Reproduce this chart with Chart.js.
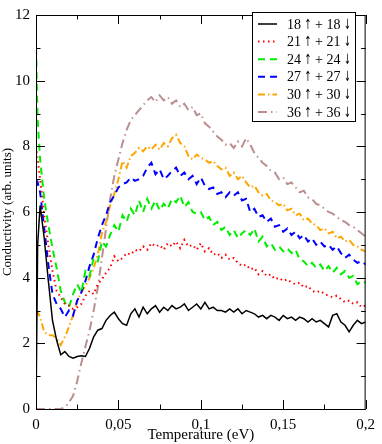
<!DOCTYPE html>
<html>
<head>
<meta charset="utf-8">
<script src="https://cdn.jsdelivr.net/npm/chart.js@4/dist/chart.umd.min.js"></script>
<style>
  html, body { margin: 0; padding: 0; background: #fff; }
  #wrap { width: 382px; height: 444px; }
</style>
</head>
<body>
<div id="wrap"><canvas id="myChart" width="382" height="444"></canvas></div>
<script>
const temperature = [0, 0.001,
  0.0025, 0.005, 0.0075, 0.01, 0.0125, 0.015, 0.0175, 0.02, 0.0225, 0.025,
  0.0275, 0.03, 0.0325, 0.035, 0.0375, 0.04, 0.0425, 0.045, 0.0475, 0.05,
  0.0525, 0.055, 0.0575, 0.06, 0.0625, 0.065, 0.0675, 0.07, 0.0725, 0.075,
  0.0775, 0.08, 0.0825, 0.085, 0.0875, 0.09, 0.0925, 0.095, 0.0975, 0.1,
  0.1025, 0.105, 0.1075, 0.11, 0.1125, 0.115, 0.1175, 0.12, 0.1225, 0.125,
  0.1275, 0.13, 0.1325, 0.135, 0.1375, 0.14, 0.1425, 0.145, 0.1475, 0.15,
  0.1525, 0.155, 0.1575, 0.16, 0.1625, 0.165, 0.1675, 0.17, 0.1725, 0.175,
  0.1775, 0.18, 0.1825, 0.185, 0.1875, 0.19, 0.1925, 0.195, 0.1975, 0.2];

const s18 = [0, 5.0,
  6.2, 5.2, 3.9, 2.7, 2.1, 1.65, 1.75, 1.6, 1.55, 1.6,
  1.62, 1.6, 1.85, 2.2, 2.4, 2.45, 2.7, 2.85, 2.95, 2.75,
  2.6, 2.55, 2.9, 3.05, 2.8, 3.1, 2.9, 3.05, 3.15, 2.95,
  3.1, 3.0, 3.15, 3.05, 3.1, 3.2, 3.0, 3.1, 3.2, 3.05,
  3.25, 3.05, 3.1, 3.0, 3.0, 2.95, 3.05, 2.95, 3.05, 2.9,
  3.0, 2.95, 2.9, 2.8, 2.85, 2.75, 2.85, 2.8, 2.7, 2.85,
  2.75, 2.8, 2.7, 2.8, 2.75, 2.65, 2.75, 2.65, 2.7, 2.6,
  2.5, 2.85, 2.9, 2.65, 2.55, 2.35, 2.55, 2.7, 2.6, 2.65];

const s21 = [8.0, 7.6,
  7.0, 5.9, 5.0, 4.2, 3.6, 3.4, 3.2, 3.15, 3.05, 3.1,
  3.2, 3.45, 3.6, 3.5, 3.8, 3.95, 4.15, 4.3, 4.65, 4.5,
  4.6, 4.75, 4.7, 4.85, 4.8, 4.95, 4.85, 5.05, 4.95, 5.0,
  4.85, 5.05, 4.95, 5.1, 4.9, 5.15, 4.95, 5.0, 4.85, 5.05,
  4.8, 4.9, 4.7, 4.75, 4.6, 4.7, 4.55, 4.6, 4.45, 4.35,
  4.4, 4.25, 4.3, 4.1, 4.2, 4.05, 4.1, 3.95, 4.0, 3.9,
  3.95, 3.85, 3.8, 3.85, 3.7, 3.75, 3.6, 3.55, 3.6, 3.5,
  3.45, 3.4, 3.45, 3.35, 3.25, 3.3, 3.2, 3.25, 3.1, 3.15];

const s24 = [11.0, 8.8,
  7.6, 6.4, 5.6, 4.9, 4.3, 3.6, 3.25, 3.1, 3.5, 3.8,
  3.55, 4.2, 4.05, 4.6, 4.5, 5.1, 4.95, 5.3, 5.6, 5.4,
  5.9, 5.7, 6.1, 5.9, 6.35, 6.0, 6.4, 6.1, 6.35, 6.05,
  6.25, 6.1, 6.4, 6.3, 6.5, 6.15, 6.3, 6.0, 5.95, 6.0,
  5.75, 5.85, 5.6, 5.7, 5.45, 5.55, 5.3, 5.45, 5.2, 5.35,
  5.45, 5.3, 5.5, 5.1, 5.25, 4.95, 5.05, 4.85, 4.95, 4.8,
  4.9, 4.75, 4.85, 4.55, 4.5, 4.35, 4.45, 4.3, 4.4, 4.2,
  4.35, 4.15, 4.3, 4.1, 4.2, 4.0, 4.05, 3.8, 3.9, 3.85];

const s27 = [6.8, 6.9,
  6.6, 5.5, 4.4, 3.5, 3.2, 3.05, 2.8, 3.0, 2.85, 3.3,
  3.55, 3.9, 4.35, 4.7, 5.2, 5.6, 5.9, 6.3, 6.5, 6.75,
  6.85, 6.9, 7.05, 6.95, 7.0, 7.1, 7.35, 7.5, 7.15, 7.3,
  7.0, 7.1, 7.25, 7.35, 7.1, 7.2, 7.0, 7.1, 6.85, 7.05,
  6.8, 6.7, 6.75, 6.55, 6.6, 6.45, 6.6, 6.5, 6.6, 6.35,
  6.4, 6.0, 6.1, 5.85, 5.9, 5.7, 5.8, 5.55, 5.6, 5.4,
  5.5, 5.3, 5.4, 5.2, 5.3, 5.1, 5.2, 5.0, 5.1, 4.95,
  5.0, 4.85, 4.95, 4.75, 4.6, 4.7, 4.55, 4.45, 4.5, 4.4];

const s30 = [2.9, 2.95,
  2.8, 2.35, 2.25, 2.25, 2.15, 1.95, 2.2, 2.5, 2.85, 3.3,
  3.55, 3.75, 4.0, 4.3, 4.7, 5.35, 5.7, 6.2, 6.55, 7.0,
  7.55, 7.35, 7.7, 7.8, 7.95, 7.85, 8.0, 7.9, 8.05, 7.9,
  8.1, 8.0, 8.25, 8.35, 8.1, 8.0, 7.7, 7.6, 7.75, 7.65,
  7.6, 7.5, 7.55, 7.4, 7.3, 7.35, 7.1, 7.2, 7.0, 7.1,
  6.9, 6.75, 6.8, 6.6, 6.5, 6.55, 6.35, 6.3, 6.2, 6.25,
  6.05, 6.1, 5.9, 5.95, 5.75, 5.8, 5.65, 5.6, 5.45, 5.5,
  5.35, 5.4, 5.2, 5.25, 5.1, 5.15, 5.0, 4.95, 4.85, 4.8];

const s36 = [0, 0,
  0, 0, 0, 0, 0, 0, 0.05, 0.2, 0.4, 0.85,
  1.4, 1.9, 2.4, 3.0, 3.7, 4.6, 5.5, 6.4, 7.1, 7.6,
  8.1, 8.5, 8.8, 8.95, 9.1, 9.25, 9.4, 9.5, 9.35, 9.55,
  9.4, 9.5, 9.3, 9.4, 9.2, 9.3, 9.1, 9.2, 8.95, 9.0,
  8.7, 8.6, 8.45, 8.3, 8.2, 8.05, 8.1, 7.95, 8.15, 8.0,
  8.25, 8.05, 7.8, 7.65, 7.5, 7.4, 7.25, 7.2, 7.0, 7.05,
  6.85, 6.9, 6.75, 6.6, 6.65, 6.45, 6.4, 6.25, 6.2, 6.1,
  6.0, 5.95, 5.85, 5.75, 5.7, 5.6, 5.55, 5.45, 5.35, 5.25];

const seriesLabels = ["18 \u2191 + 18 \u2193", "21 \u2191 + 21 \u2193", "24 \u2191 + 24 \u2193",
                      "27 \u2191 + 27 \u2193", "30 \u2191 + 30 \u2193", "36 \u2191 + 36 \u2193"];
const seriesValues = [s18, s21, s24, s27, s30, s36];
const colors = ["#000000", "#ff0000", "#00ee00", "#0000ff", "#ffa500", "#bc8f8f"];
const dashes = [[], [1.5, 3.5], [7, 5], [7, 5], [7, 3, 1.5, 3], [9, 4, 1.5, 4]];
const widths = [1.5, 2, 2, 2, 2, 2];

const serif = "'Liberation Serif', 'Times New Roman', serif";

function toPoints(vals) {
    return vals.map((v, i) => ({ x: temperature[i], y: v }));
}

// inner ticks on all four sides + boxed legend
const framePlugin = {
    id: "frame",
    afterDraw(chart) {
        const c = chart.ctx;
        const a = chart.chartArea;
        const xs = chart.scales.x, ys = chart.scales.y;
        c.save();
        c.strokeStyle = "#000";
        c.lineWidth = 1;
        c.setLineDash([]);
        c.strokeRect(a.left + 0.5, a.top + 0.5, a.right - a.left - 1, a.bottom - a.top);

        c.beginPath();
        for (let k = 0; k <= 8; k++) {
            const v = k * 0.025;
            const px = Math.round(xs.getPixelForValue(v)) + 0.5;
            const len = k % 2 === 0 ? 9 : 4.5;
            c.moveTo(px, a.bottom); c.lineTo(px, a.bottom - len);
            c.moveTo(px, a.top); c.lineTo(px, a.top + len);
        }
        for (let k = 0; k <= 12; k++) {
            const py = Math.round(ys.getPixelForValue(k)) + 0.5;
            const len = k % 2 === 0 ? 9 : 4.5;
            c.moveTo(a.left, py); c.lineTo(a.left + len, py);
            c.moveTo(a.right, py); c.lineTo(a.right - len, py);
        }
        c.stroke();

        // legend
        const bx = 252.5, by = 12.5, bw = 103, bh = 109;
        c.fillStyle = "#fff";
        c.fillRect(bx, by, bw, bh);
        c.strokeStyle = "#000";
        c.lineWidth = 1;
        c.strokeRect(bx, by, bw, bh);
        c.textBaseline = "middle";
        c.textAlign = "left";
        chart.data.datasets.forEach((ds, i) => {
            const y = 24 + i * 17.6;
            c.beginPath();
            c.strokeStyle = ds.borderColor;
            c.lineWidth = ds.borderWidth;
            c.setLineDash(ds.borderDash);
            c.moveTo(258, y); c.lineTo(277, y);
            c.stroke();
            c.setLineDash([]);
            c.fillStyle = "#000";
            // tall thin arrows: DejaVu glyph squeezed horizontally
            let tx = 287;
            for (const ch of ds.label) {
                const isArrow = ch === "\u2191" || ch === "\u2193";
                if (isArrow) {
                    c.font = "14px 'DejaVu Sans'";
                    const w = c.measureText(ch).width;
                    c.save();
                    c.translate(tx, y + 1);
                    c.scale(0.6, 1);
                    c.fillText(ch, 0, 0);
                    c.restore();
                    tx += w * 0.6;
                } else {
                    c.font = "14px " + serif;
                    c.fillText(ch, tx, y + 1);
                    tx += c.measureText(ch).width;
                }
            }
        });
        c.restore();
    }
};

const ctx = document.getElementById("myChart");

new Chart(ctx, {
    type: "line",
    data: {
        datasets: seriesValues.map((vals, i) => ({
            label: seriesLabels[i],
            data: toPoints(vals),
            borderColor: colors[i],
            borderWidth: widths[i],
            borderDash: dashes[i],
            pointRadius: 0,
            tension: 0,
            fill: false,
        })),
    },
    options: {
        responsive: false,
        animation: false,
        layout: { padding: { top: 6, right: 10, left: 0, bottom: 0 } },
        plugins: {
            legend: { display: false },
            tooltip: { enabled: false },
        },
        scales: {
            x: {
                type: "linear",
                min: 0,
                max: 0.2,
                afterFit: (s) => { s.height = 35; },
                grid: { display: false, drawTicks: false },
                border: { display: false },
                ticks: {
                    stepSize: 0.05,
                    padding: 7,
                    color: "#000",
                    font: { family: serif, size: 15 },
                    maxRotation: 0,
                    callback: (v) => String(Number(v.toFixed(2))).replace(".", ","),
                },
                title: {
                    display: true,
                    text: "Temperature (eV)",
                    color: "#000",
                    font: { family: serif, size: 15 },
                    padding: { top: 0, bottom: 0 },
                },
            },
            y: {
                min: 0,
                max: 12,
                afterFit: (s) => { s.width = 36; },
                grid: { display: false, drawTicks: false },
                border: { display: false },
                ticks: {
                    stepSize: 2,
                    padding: 6,
                    color: "#000",
                    font: { family: serif, size: 15 },
                },
                title: {
                    display: true,
                    text: "Conductivity (arb. units)",
                    color: "#000",
                    font: { family: serif, size: 13 },
                    padding: { top: 0, bottom: 0 },
                },
            },
        },
    },
    plugins: [framePlugin],
});
</script>
</body>
</html>
